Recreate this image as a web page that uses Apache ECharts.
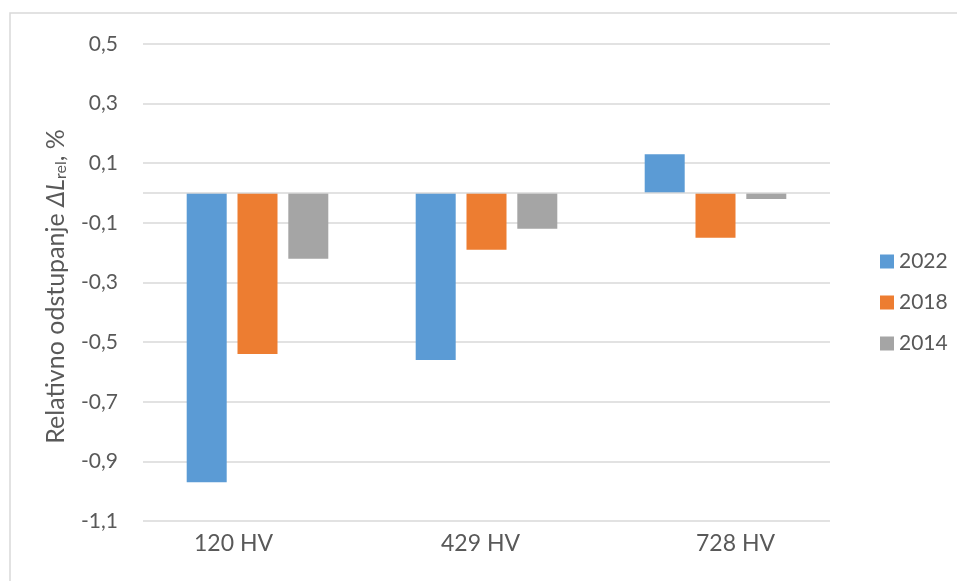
<!DOCTYPE html>
<html><head><meta charset="utf-8">
<script src="https://cdn.jsdelivr.net/npm/echarts@6/dist/echarts.min.js"></script>
<style>html,body{margin:0;padding:0;background:#fff}#c{width:957px;height:581px}</style>
</head><body><div id="c"></div>
<script>
var categories = ['120 HV', '429 HV', '728 HV'];
var s2022 = [-0.97, -0.56, 0.13];
var s2018 = [-0.54, -0.19, -0.15];
var s2014 = [-0.22, -0.12, -0.02];
var seriesNames = ['2022', '2018', '2014'];
var colors = ['#5B9BD5', '#ED7D31', '#A5A5A5'];

var chart = echarts.init(document.getElementById('c'));
var font = 'Lato, "Open Sans", sans-serif';
var txt = '#595959';
function bar(name, data, color, withZero) {
  var s = { name: name, type: 'bar', data: data, barWidth: 40, barGap: '27%',
    itemStyle: { color: color }, silent: true };
  if (withZero) {
    s.markLine = { silent: true, symbol: 'none', label: { show: false },
      lineStyle: { color: '#d9d9d9', type: 'solid', width: 1.5 }, data: [{ yAxis: 0 }] };
  }
  return s;
}
chart.setOption({
  animation: false,
  textStyle: { fontFamily: font },
  graphic: [{ type: 'rect', shape: { x: 10, y: 13, width: 1000, height: 1000 },
    style: { fill: 'none', stroke: '#d9d9d9', lineWidth: 1.5 }, silent: true, z: -10 }],
  grid: { left: 143, right: 127, top: 44, bottom: 60 },
  legend: { orient: 'vertical', left: 875, top: 246, itemWidth: 14, itemHeight: 14, itemGap: 20,
    icon: 'rect', data: seriesNames,
    textStyle: { fontSize: 21, color: txt, fontFamily: font } },
  xAxis: { type: 'category', data: categories,
    axisLine: { show: false }, axisTick: { show: false },
    axisLabel: { fontSize: 23, color: txt, margin: 11, fontFamily: font,
      formatter: function (v, i) { return '{c' + i + '|' + v + '}'; },
      rich: {
        c0: { fontSize: 23, color: txt, fontFamily: font, padding: [0, 48, 0, 0] },
        c1: { fontSize: 23, color: txt, fontFamily: font, padding: [0, 12, 0, 0] },
        c2: { fontSize: 23, color: txt, fontFamily: font, padding: [0, 0, 0, 40] }
      } } },
  yAxis: { type: 'value', min: -1.1, max: 0.5, interval: 0.2,
    name: '{a|Relativno odstupanje }{i|ΔL}{s|rel}{a|, %}',
    nameLocation: 'middle', nameRotate: 90, nameGap: 74,
    nameTextStyle: { padding: [0, 8, 0, 0], rich: {
      a: { fontSize: 25, color: txt, fontFamily: font },
      i: { fontSize: 25, color: txt, fontStyle: 'italic', fontFamily: font },
      s: { fontSize: 16, color: txt, fontFamily: font, padding: [10, 0, 0, 0] }
    } },
    axisLine: { show: false }, axisTick: { show: false },
    splitLine: { lineStyle: { color: '#d9d9d9', width: 1.5 } },
    axisLabel: { fontSize: 21, color: txt, margin: 25, fontFamily: font,
      formatter: function (v) { return (Math.round(v * 10) / 10).toFixed(1).replace('.', ','); } } },
  series: [bar(seriesNames[0], s2022, colors[0], true), bar(seriesNames[1], s2018, colors[1]), bar(seriesNames[2], s2014, colors[2])]
});
</script></body></html>
